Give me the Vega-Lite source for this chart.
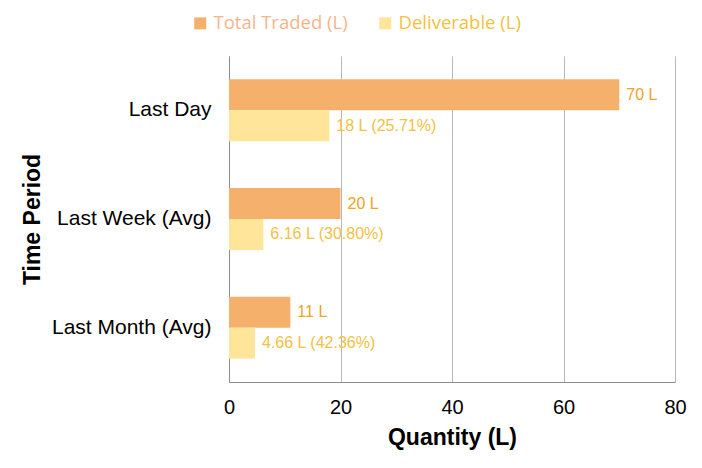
{
  "$schema": "https://vega.github.io/schema/vega-lite/v6.json",
  "width": 446,
  "height": 326,
  "autosize": {"type": "none"},
  "padding": {"left": 229, "top": 56, "right": 27, "bottom": 86},
  "background": "white",
  "data": {
    "values": [
      {"period": "Last Day", "series": "Total Traded (L)", "value": 70, "label": "70 L"},
      {"period": "Last Day", "series": "Deliverable (L)", "value": 18, "label": "18 L (25.71%)"},
      {"period": "Last Week (Avg)", "series": "Total Traded (L)", "value": 20, "label": "20 L"},
      {"period": "Last Week (Avg)", "series": "Deliverable (L)", "value": 6.16, "label": "6.16 L (30.80%)"},
      {"period": "Last Month (Avg)", "series": "Total Traded (L)", "value": 11, "label": "11 L"},
      {"period": "Last Month (Avg)", "series": "Deliverable (L)", "value": 4.66, "label": "4.66 L (42.36%)"}
    ]
  },
  "encoding": {
    "y": {
      "field": "period",
      "type": "nominal",
      "sort": null,
      "scale": {"paddingInner": 0.43, "paddingOuter": 0.215},
      "axis": {
        "title": "Time Period",
        "titleFont": "Liberation Sans",
        "titleFontSize": 23,
        "titleFontWeight": "bold",
        "titleColor": "black",
        "titlePadding": 7,
        "labelFont": "Liberation Sans",
        "labelFontSize": 21,
        "labelColor": "black",
        "labelPadding": 18,
        "ticks": false,
        "tickSize": 0,
        "grid": false,
        "domainColor": "#8c8c8c"
      }
    },
    "yOffset": {
      "field": "series",
      "type": "nominal",
      "sort": ["Total Traded (L)", "Deliverable (L)"],
      "scale": {"paddingInner": 0, "paddingOuter": 0}
    },
    "x": {
      "field": "value",
      "type": "quantitative",
      "scale": {"domain": [0, 80], "nice": false},
      "axis": {
        "title": "Quantity (L)",
        "values": [0, 20, 40, 60, 80],
        "labelFlush": false,
        "titleFont": "Liberation Sans",
        "titleFontSize": 23,
        "titleFontWeight": "bold",
        "titleColor": "black",
        "titlePadding": 9,
        "labelFont": "Liberation Sans",
        "labelFontSize": 20,
        "labelColor": "black",
        "labelPadding": 15,
        "ticks": false,
        "tickSize": 0,
        "grid": true,
        "gridColor": "#b8b8b8",
        "domainColor": "#8c8c8c"
      }
    }
  },
  "layer": [
    {
      "mark": {"type": "bar"},
      "encoding": {
        "color": {
          "field": "series",
          "type": "nominal",
          "sort": ["Total Traded (L)", "Deliverable (L)"],
          "scale": {
            "domain": ["Total Traded (L)", "Deliverable (L)"],
            "range": ["#F5B16B", "#FFE599"]
          },
          "legend": {
            "title": null,
            "orient": "none",
            "direction": "horizontal",
            "legendX": -38,
            "legendY": -42,
            "symbolType": "square",
            "symbolSize": 144,
            "symbolStrokeWidth": 0,
            "symbolOpacity": 1,
            "labelFont": "Open Sans",
            "labelFontSize": 18.5,
            "labelOffset": 4,
            "columnPadding": 28,
            "encode": {
              "labels": {
                "update": {
                  "fill": {"signal": "datum.value === 'Total Traded (L)' ? '#F6B48C' : '#F4C23C'"}
                }
              }
            }
          }
        }
      }
    },
    {
      "mark": {
        "type": "text",
        "align": "left",
        "baseline": "middle",
        "dx": 7,
        "font": "Liberation Sans",
        "fontSize": 16
      },
      "encoding": {
        "text": {"field": "label"},
        "color": {
          "condition": {"test": "datum.series === 'Total Traded (L)'", "value": "#F2A322"},
          "value": "#F3C142"
        }
      }
    }
  ],
  "config": {
    "view": {"stroke": null}
  }
}
